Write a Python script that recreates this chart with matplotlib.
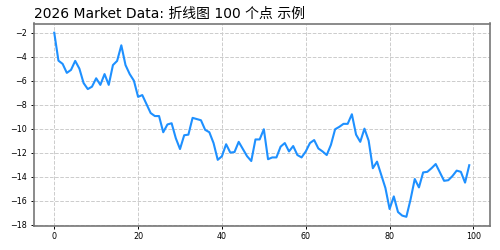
import matplotlib
matplotlib.use('Agg')
import matplotlib.pyplot as plt
import numpy as np

plt.rcParams['font.family'] = ['DejaVu Sans', 'Noto Sans CJK SC']
plt.rcParams['axes.unicode_minus'] = True

# 读图估计的数据
steps = np.arange(100)
values = [
    -2.0, -4.33, -4.6, -5.35, -5.1, -4.35, -5.0, -6.2, -6.7, -6.5,
    -5.8, -6.35, -5.45, -6.35, -4.7, -4.35, -3.05, -4.7, -5.45, -6.0,
    -7.35, -7.2, -7.95, -8.7, -8.95, -8.95, -10.3, -9.65, -9.55, -10.8,
    -11.7, -10.55, -10.5, -9.1, -9.2, -9.3, -10.1, -10.3, -11.2, -12.6,
    -12.3, -11.3, -12.0, -11.95, -11.1, -11.7, -12.3, -12.7, -10.9, -10.9,
    -10.05, -12.55, -12.4, -12.4, -11.5, -11.2, -11.9, -11.45, -12.2, -12.4,
    -11.9, -11.2, -10.95, -11.65, -11.9, -12.2, -11.35, -10.05, -9.85, -9.6,
    -9.6, -8.8, -10.5, -11.1, -10.0, -11.0, -13.3, -12.75, -13.85, -14.95,
    -16.7, -15.65, -16.95, -17.25, -17.35, -15.9, -14.2, -14.9, -13.65, -13.6,
    -13.3, -12.95, -13.65, -14.35, -14.3, -13.95, -13.5, -13.6, -14.5, -13.05,
]
title = '2026 Market Data: 折线图 100 个点 示例'

fig = plt.figure(figsize=(5, 2.5), dpi=100)
ax = fig.add_axes([0.067, 0.096, 0.913, 0.81])
ax.plot(steps, values, color='#1E90FF', linewidth=1.5)

ax.grid(True, linestyle='--', color='#cccccc', linewidth=0.7)
ax.set_yticks(np.arange(-18, -1, 2))
ax.set_xticks(np.arange(0, 101, 20))
ax.tick_params(labelsize=5.8, length=2.5, width=0.7, pad=2)
for s in ax.spines.values():
    s.set_color('#777777')
    s.set_linewidth(1.2)

ax.set_title(title, loc='left', fontsize=10, pad=4)

fig.savefig('out.png', dpi=100)
